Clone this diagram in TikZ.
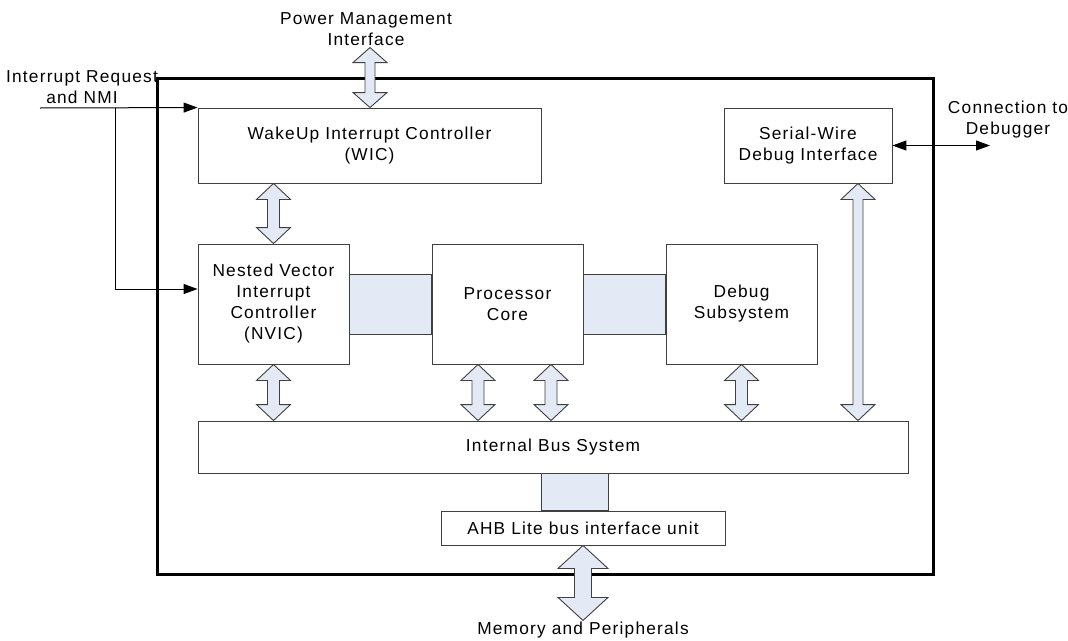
\documentclass[tikz,border=0pt]{standalone}
\usepackage{fontspec}
\setmainfont{Liberation Sans}[LetterSpace=7]
\usetikzlibrary{arrows.meta,calc}
\definecolor{bandfill}{HTML}{E3EAF6}
\definecolor{edge}{HTML}{404040}
\tikzset{
  lbl/.style={font=\fontsize{17.3pt}{21pt}\selectfont, align=center, inner sep=0pt, text=black},
  box/.style={lbl, draw=edge, line width=0.9pt, fill=white, rectangle},
  band/.style={fill=bandfill, draw=edge, line width=0.9pt},
  blockarrow/.style={fill=bandfill, draw=edge, line width=0.9pt, line join=miter},
  sig/.style={draw=black, line width=1pt},
  tip/.style={-{Triangle[length=14pt,width=10pt]}},
  tips/.style={{Triangle[length=14pt,width=10pt]}-{Triangle[length=14pt,width=10pt]}},
}
% vertical double block arrow: #1 top point, #2 bottom point, #3 head half-width, #4 head length, #5 shaft half-width
\newcommand\vdblarrow[5]{%
  \path[blockarrow] let \p1=#1, \p2=#2 in
    (\x1,\y1) -- (\x1+#3pt,\y1-#4pt) -- (\x1+#5pt,\y1-#4pt) -- (\x1+#5pt,\y2+#4pt)
    -- (\x1+#3pt,\y2+#4pt) -- (\x1,\y2) -- (\x1-#3pt,\y2+#4pt) -- (\x1-#5pt,\y2+#4pt)
    -- (\x1-#5pt,\y1-#4pt) -- (\x1-#3pt,\y1-#4pt) -- cycle;}
\begin{document}
\begin{tikzpicture}[x=1pt,y=-1pt]
\useasboundingbox (0,0) rectangle (1068,640);
\fill[white] (0,0) rectangle (1068,640);

% outer chip boundary
\node[draw=black, line width=3pt, minimum width=776pt, minimum height=496pt, inner sep=0pt] (chip) at (545,326) {};

% blocks
\node[box, minimum width=343pt, minimum height=75pt] (wic) at (369.5,145.5) {WakeUp Interrupt Controller\\(WIC)};
\node[box, minimum width=168pt, minimum height=75pt] (swd) at (808,145.5) {Serial-Wire\\Debug Interface};
\node[box, minimum width=151pt, minimum height=120pt] (nvic) at (273.5,304) {Nested Vector\\Interrupt\\Controller\\(NVIC)};
\node[box, minimum width=151pt, minimum height=120pt] (proc) at (507.5,304) {Processor\\Core};
\node[box, minimum width=151pt, minimum height=120pt] (dbg) at (741.5,304) {Debug\\Subsystem};
\node[box, minimum width=710pt, minimum height=52pt] (bus) at (553,447) {Internal Bus System};
\node[box, minimum width=284pt, minimum height=34pt] (ahb) at (583,528) {AHB Lite bus interface unit};

% wide bands
\draw[band] ($(nvic.east)+(0,-30)$) rectangle ($(proc.west)+(0,30)$);
\draw[band] ($(proc.east)+(0,-30)$) rectangle ($(dbg.west)+(0,30)$);
\draw[band] ($(bus.south -| ahb.north)+(-42,0)$) rectangle ($(ahb.north)+(25,0)$);

% block arrows
\vdblarrow{($(wic.north)+(0.5,-60)$)}{($(wic.north)+(0.5,0)$)}{17}{15}{5}
\vdblarrow{(nvic.north |- wic.south)}{(nvic.north)}{17}{16}{6}
\vdblarrow{(nvic.south)}{(nvic.south |- bus.north)}{17}{16}{6}
\vdblarrow{($(proc.south)+(-29.5,0)$)}{($(proc.south |- bus.north)+(-29.5,0)$)}{17}{16}{6}
\vdblarrow{($(proc.south)+(43.5,0)$)}{($(proc.south |- bus.north)+(43.5,0)$)}{17}{16}{6}
\vdblarrow{(dbg.south)}{(dbg.south |- bus.north)}{17}{16}{6}
\vdblarrow{($(swd.south)+(50,0)$)}{($(swd.south |- bus.north)+(50,0)$)}{17}{16}{5}
\vdblarrow{(ahb.south)}{($(ahb.south)+(0,75)$)}{25}{23}{8.5}

% signal lines
\coordinate (irq) at (40,108);
\coordinate (branch) at (115,108);
\coordinate (dbgend) at (990,145.5);
\draw[sig, tip] (irq) -- (wic.north west);
\draw[sig, tip] (branch) |- ($(nvic.west)+(0,-15)$);
\draw[sig, tips] (swd.east) -- (dbgend);

% labels
\node[lbl] (irqlbl) at (82,87.5) {Interrupt Request\\and NMI};
\node[lbl] (pwrlbl) at (366,29) {Power Management\\Interface};
\node[lbl] (dbglbl) at (1008,120) {Connection to\\Debugger};
\node[lbl] (memlbl) at (583,630) {Memory and Peripherals};
\end{tikzpicture}
\end{document}
